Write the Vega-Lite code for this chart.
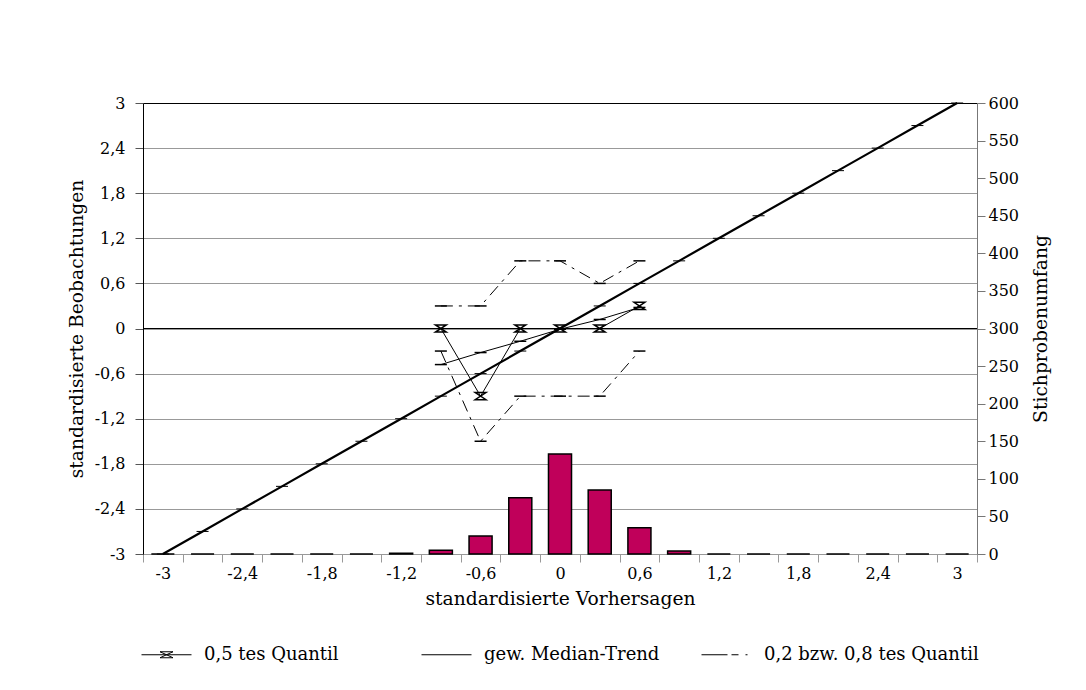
{
  "$schema": "https://vega.github.io/schema/vega-lite/v6.json",
  "autosize": "none",
  "width": 834,
  "height": 451,
  "padding": {"left": 143, "top": 103, "right": 109, "bottom": 136},
  "background": "white",
  "config": {
    "locale": {"number": {"decimal": ",", "thousands": ".", "grouping": [3], "currency": ["", " €"], "minus": "-"}},
    "font": "DejaVu Serif",
    "view": {"stroke": null},
    "axis": {"labelFont": "DejaVu Serif", "titleFont": "DejaVu Serif", "labelFontSize": 16, "titleFontSize": 18.7, "titleFontWeight": "normal", "labelColor": "black", "titleColor": "black"},
    "legend": {"labelFont": "DejaVu Serif", "labelFontSize": 18, "labelColor": "black"}
  },
  "datasets": {
    "bars": [
      {"x": -3, "n": 0}, {"x": -2.7, "n": 0}, {"x": -2.4, "n": 0}, {"x": -2.1, "n": 0},
      {"x": -1.8, "n": 0}, {"x": -1.5, "n": 0}, {"x": -1.2, "n": 1}, {"x": -0.9, "n": 5},
      {"x": -0.6, "n": 24}, {"x": -0.3, "n": 75}, {"x": 0, "n": 133}, {"x": 0.3, "n": 85},
      {"x": 0.6, "n": 35}, {"x": 0.9, "n": 4}, {"x": 1.2, "n": 0}, {"x": 1.5, "n": 0},
      {"x": 1.8, "n": 0}, {"x": 2.1, "n": 0}, {"x": 2.4, "n": 0}, {"x": 2.7, "n": 0}, {"x": 3, "n": 0}
    ],
    "diag": [
      {"x": -3, "y": -3}, {"x": -2.7, "y": -2.7}, {"x": -2.4, "y": -2.4}, {"x": -2.1, "y": -2.1},
      {"x": -1.8, "y": -1.8}, {"x": -1.5, "y": -1.5}, {"x": -1.2, "y": -1.2}, {"x": -0.9, "y": -0.9},
      {"x": -0.6, "y": -0.6}, {"x": -0.3, "y": -0.3}, {"x": 0, "y": 0}, {"x": 0.3, "y": 0.3},
      {"x": 0.6, "y": 0.6}, {"x": 0.9, "y": 0.9}, {"x": 1.2, "y": 1.2}, {"x": 1.5, "y": 1.5},
      {"x": 1.8, "y": 1.8}, {"x": 2.1, "y": 2.1}, {"x": 2.4, "y": 2.4}, {"x": 2.7, "y": 2.7}, {"x": 3, "y": 3}
    ],
    "lines": [
      {"series": "0,5 tes Quantil", "line": "q50", "x": -0.9, "y": 0},
      {"series": "0,5 tes Quantil", "line": "q50", "x": -0.6, "y": -0.9},
      {"series": "0,5 tes Quantil", "line": "q50", "x": -0.3, "y": 0},
      {"series": "0,5 tes Quantil", "line": "q50", "x": 0, "y": 0},
      {"series": "0,5 tes Quantil", "line": "q50", "x": 0.3, "y": 0},
      {"series": "0,5 tes Quantil", "line": "q50", "x": 0.6, "y": 0.3},
      {"series": "gew. Median-Trend", "line": "trend", "x": -0.9, "y": -0.48},
      {"series": "gew. Median-Trend", "line": "trend", "x": -0.6, "y": -0.32},
      {"series": "gew. Median-Trend", "line": "trend", "x": -0.3, "y": -0.17},
      {"series": "gew. Median-Trend", "line": "trend", "x": 0, "y": -0.01},
      {"series": "gew. Median-Trend", "line": "trend", "x": 0.3, "y": 0.12},
      {"series": "gew. Median-Trend", "line": "trend", "x": 0.6, "y": 0.28},
      {"series": "0,2 bzw. 0,8 tes Quantil", "line": "q80", "x": -0.9, "y": 0.3},
      {"series": "0,2 bzw. 0,8 tes Quantil", "line": "q80", "x": -0.6, "y": 0.3},
      {"series": "0,2 bzw. 0,8 tes Quantil", "line": "q80", "x": -0.3, "y": 0.9},
      {"series": "0,2 bzw. 0,8 tes Quantil", "line": "q80", "x": 0, "y": 0.9},
      {"series": "0,2 bzw. 0,8 tes Quantil", "line": "q80", "x": 0.3, "y": 0.6},
      {"series": "0,2 bzw. 0,8 tes Quantil", "line": "q80", "x": 0.6, "y": 0.9},
      {"series": "0,2 bzw. 0,8 tes Quantil", "line": "q20", "x": -0.9, "y": -0.3},
      {"series": "0,2 bzw. 0,8 tes Quantil", "line": "q20", "x": -0.6, "y": -1.5},
      {"series": "0,2 bzw. 0,8 tes Quantil", "line": "q20", "x": -0.3, "y": -0.9},
      {"series": "0,2 bzw. 0,8 tes Quantil", "line": "q20", "x": 0, "y": -0.9},
      {"series": "0,2 bzw. 0,8 tes Quantil", "line": "q20", "x": 0.3, "y": -0.9},
      {"series": "0,2 bzw. 0,8 tes Quantil", "line": "q20", "x": 0.6, "y": -0.3}
    ],
    "keys": [
      {"series": "0,5 tes Quantil", "x": 0, "y": 0},
      {"series": "gew. Median-Trend", "x": 0, "y": 0},
      {"series": "0,2 bzw. 0,8 tes Quantil", "x": 0, "y": 0}
    ]
  },
  "layer": [
    {
      "data": {"name": "bars"},
      "mark": {"type": "bar", "fill": "#c0005a", "stroke": "black", "strokeWidth": 1.5, "width": {"band": 0.58}},
      "encoding": {
        "x": {
          "field": "x", "type": "ordinal", "sort": "ascending",
          "scale": {"paddingInner": 0, "paddingOuter": 0, "domain": [-3, -2.7, -2.4, -2.1, -1.8, -1.5, -1.2, -0.9, -0.6, -0.3, 0, 0.3, 0.6, 0.9, 1.2, 1.5, 1.8, 2.1, 2.4, 2.7, 3]},
          "axis": {
            "title": "standardisierte Vorhersagen",
            "labelAngle": 0,
            "tickBand": "extent",
            "domainColor": "#999999",
            "tickColor": "#999999",
            "tickSize": 8,
            "labelPadding": 3,
            "titlePadding": 8,
            "labelExpr": "abs(datum.value*10/6 - round(datum.value*10/6)) < 0.001 ? replace(datum.label, '.', ',') : ''"
          }
        },
        "y": {
          "field": "n", "type": "quantitative",
          "scale": {"domain": [0, 600], "nice": false},
          "axis": {
            "orient": "right",
            "title": "Stichprobenumfang",
            "titleAngle": 270,
            "titlePadding": 32,
            "values": [0, 50, 100, 150, 200, 250, 300, 350, 400, 450, 500, 550, 600],
            "grid": false,
            "domainColor": "#777777",
            "tickColor": "#777777",
            "tickSize": 8,
            "labelPadding": 3
          }
        }
      }
    },
    {
      "layer": [
        {
          "data": {"name": "diag"},
          "mark": {"type": "rule", "color": "black", "strokeWidth": 1},
          "encoding": {"y": {"datum": 0, "type": "quantitative"}}
        },
        {
          "data": {"name": "diag"},
          "mark": {"type": "line", "color": "black", "strokeWidth": 2.2},
          "encoding": {
            "x": {"field": "x", "type": "ordinal"},
            "y": {
              "field": "y", "type": "quantitative",
              "scale": {"domain": [-3, 3], "nice": false},
              "axis": {
                "orient": "left",
                "title": "standardisierte Beobachtungen",
                "values": [-3, -2.7, -2.4, -2.1, -1.8, -1.5, -1.2, -0.9, -0.6, -0.3, 0, 0.3, 0.6, 0.9, 1.2, 1.5, 1.8, 2.1, 2.4, 2.7, 3],
                "format": ".1~f",
                "labelExpr": "abs(datum.value*10/6 - round(datum.value*10/6)) < 0.001 ? datum.label : ''",
                "grid": true,
                "gridColor": {"condition": {"test": "datum.value >= 2.99", "value": "black"}, "value": "#999999"},
                "gridOpacity": {"condition": {"test": "abs(datum.value*10/6 - round(datum.value*10/6)) < 0.001", "value": 1}, "value": 0},
                "tickSize": {"condition": {"test": "abs(datum.value*10/6 - round(datum.value*10/6)) < 0.001", "value": 8}, "value": 4},
                "tickColor": "#555555",
                "domainColor": "black",
                "labelPadding": 10,
                "titlePadding": 8
              }
            }
          }
        },
        {
          "data": {"name": "diag"},
          "mark": {"type": "point", "shape": "M-1,0H1", "size": 144, "stroke": "black", "strokeWidth": 1, "filled": false, "opacity": 1},
          "encoding": {"x": {"field": "x", "type": "ordinal"}, "y": {"field": "y", "type": "quantitative"}}
        },
        {
          "data": {"name": "lines"},
          "transform": [{"filter": "datum.line == 'q50' || datum.line == 'trend'"}],
          "mark": {"type": "line", "color": "black", "strokeWidth": 1},
          "encoding": {
            "x": {"field": "x", "type": "ordinal"},
            "y": {"field": "y", "type": "quantitative"},
            "detail": {"field": "line"}
          }
        },
        {
          "data": {"name": "lines"},
          "transform": [{"filter": "datum.line == 'q20' || datum.line == 'q80'"}],
          "mark": {"type": "line", "color": "black", "strokeWidth": 1, "strokeDash": [12, 6, 3, 6]},
          "encoding": {
            "x": {"field": "x", "type": "ordinal"},
            "y": {"field": "y", "type": "quantitative"},
            "detail": {"field": "line"}
          }
        },
        {
          "data": {"name": "lines"},
          "transform": [{"filter": "datum.line == 'q50'"}],
          "mark": {"type": "point", "shape": "M-0.9,-0.6H0.9L-0.9,0.6H0.9Z", "filled": false, "stroke": "black", "strokeWidth": 1.5, "opacity": 1, "size": 144},
          "encoding": {"x": {"field": "x", "type": "ordinal"}, "y": {"field": "y", "type": "quantitative"}}
        },
        {
          "data": {"name": "lines"},
          "transform": [{"filter": "datum.line != 'q50'"}],
          "mark": {"type": "point", "shape": "M-1,0H1", "filled": false, "stroke": "black", "strokeWidth": 1.5, "opacity": 1, "size": 144},
          "encoding": {"x": {"field": "x", "type": "ordinal"}, "y": {"field": "y", "type": "quantitative"}}
        },
        {
          "data": {"name": "keys"},
          "mark": {"type": "point", "stroke": "black", "strokeWidth": 1, "filled": false, "size": 0},
          "encoding": {
            "x": {"field": "x", "type": "ordinal"},
            "y": {"field": "y", "type": "quantitative"},
            "shape": {
              "field": "series", "type": "nominal",
              "scale": {"domain": ["0,5 tes Quantil", "gew. Median-Trend", "0,2 bzw. 0,8 tes Quantil"], "range": ["M-1,0H1M-0.26,-0.12H0.26L-0.26,0.12H0.26Z", "M-1,0H1", "M-1,0H0.04M0.2,0H0.48M0.76,0H0.84"]},
              "legend": {
                "title": null,
                "orient": "none",
                "legendX": -2,
                "legendY": 526,
                "direction": "horizontal",
                "columns": 3,
                "gridAlign": "all",
                "columnPadding": 0,
                "padding": 0,
                "symbolSize": 2500,
                "symbolOpacity": 1,
                "symbolStrokeColor": "black",
                "symbolFillColor": "transparent",
                "symbolStrokeWidth": 1,
                "labelOffset": 12,
                "labelLimit": 400
              }
            }
          }
        }
      ]
    }
  ],
  "resolve": {"scale": {"y": "independent"}}
}
